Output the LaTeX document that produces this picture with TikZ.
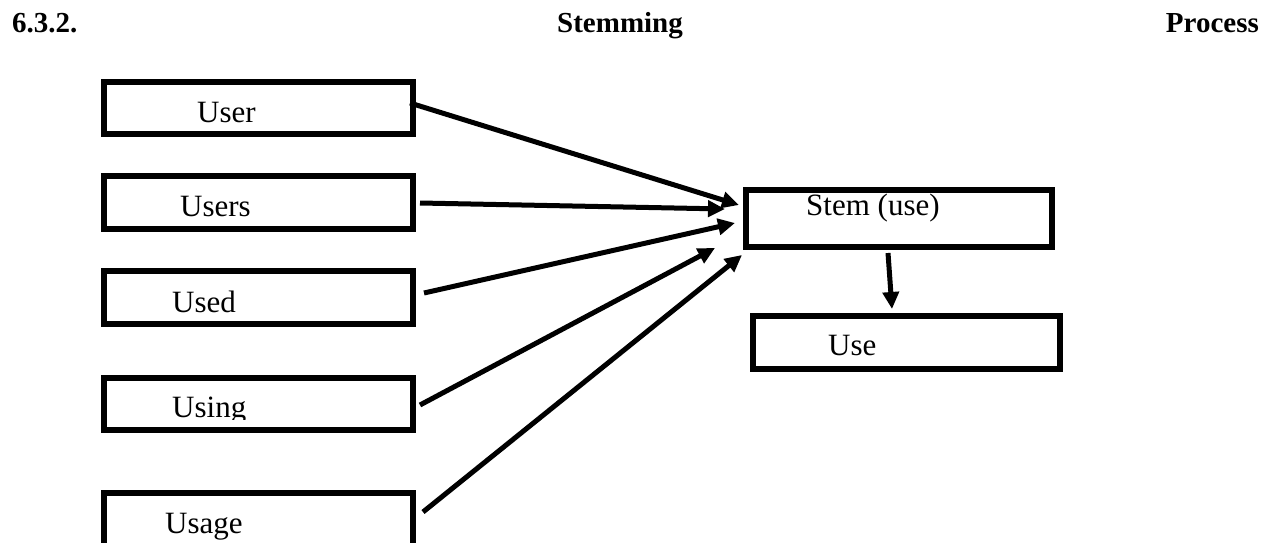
\documentclass[tikz,border=0pt]{standalone}
\usepackage{fontspec}
\setmainfont{Liberation Serif}
\usetikzlibrary{arrows.meta,calc}
\begin{document}
\begin{tikzpicture}[x=1pt,y=-1pt,
  box/.style={draw=black,line width=6pt,rectangle,inner sep=0pt,fill=white},
  lbl/.style={anchor=base west,inner sep=0pt,font=\fontsize{31}{36}\selectfont},
  ttl/.style={anchor=base west,inner sep=0pt,font=\fontsize{29}{33}\selectfont\bfseries},
  arr/.style={line width=5pt,-{Triangle[length=17pt,width=16pt]}}]
\useasboundingbox (0,0) rectangle (1271,543);
\clip (0,0) rectangle (1271,543);
% title
\node[ttl] (t1) at (12,33) {6.3.2.};
\node[ttl] (t2) at (557,33) {Stemming};
\node[ttl,anchor=base east] (t3) at (1259,33) {Process};
% boxes
\node[box,minimum width=309pt,minimum height=52pt] (user) at (258.5,108) {};
\node[box,minimum width=309pt,minimum height=53pt] (users) at (258.5,202.5) {};
\node[box,minimum width=309pt,minimum height=53pt] (used) at (258.5,297.5) {};
\node[box,minimum width=309pt,minimum height=52pt] (using) at (258.5,404) {};
\node[box,minimum width=309pt,minimum height=57pt] (usage) at (258.5,521.5) {};
\node[box,minimum width=306pt,minimum height=57pt] (stem) at (899,218.5) {};
\node[box,minimum width=307pt,minimum height=53pt] (use) at (906.5,342.5) {};
% labels
\node[lbl] (luser) at (197,122) {User};
\node[lbl] (lusers) at (180,216) {Users};
\node[lbl] (lused) at (172,312) {Used};
\begin{scope}
\clip (100,380) rectangle (420,419);
\node[lbl] (lusing) at (172,417) {Using};
\end{scope}
\node[lbl] (lusage) at (165,533) {Usage};
\node[lbl] (lstem) at (806,215) {Stem (use)};
\node[lbl] (luse) at (828,355) {Use};
% arrows
\draw[arr] ($(user.east)+(-6,-5)$) -- ($(stem.west)+(-4,-13.5)$);
\draw[arr] ($(users.east)+(4,0.5)$) -- ($(stem.west)+(-18,-9.5)$);
\draw[arr] ($(used.east)+(8,-4.5)$) -- ($(stem.west)+(-8,4.5)$);
\draw[arr] ($(using.east)+(4,1)$) -- ($(stem.west)+(-28,29.5)$);
\draw[arr] ($(usage.east)+(7,-9.5)$) -- ($(stem.west)+(-1,36.5)$);
\draw[arr] ($(stem.south)+(-11,3)$) -- ($(use.north)+(-14.5,-4)$);
\end{tikzpicture}
\end{document}
